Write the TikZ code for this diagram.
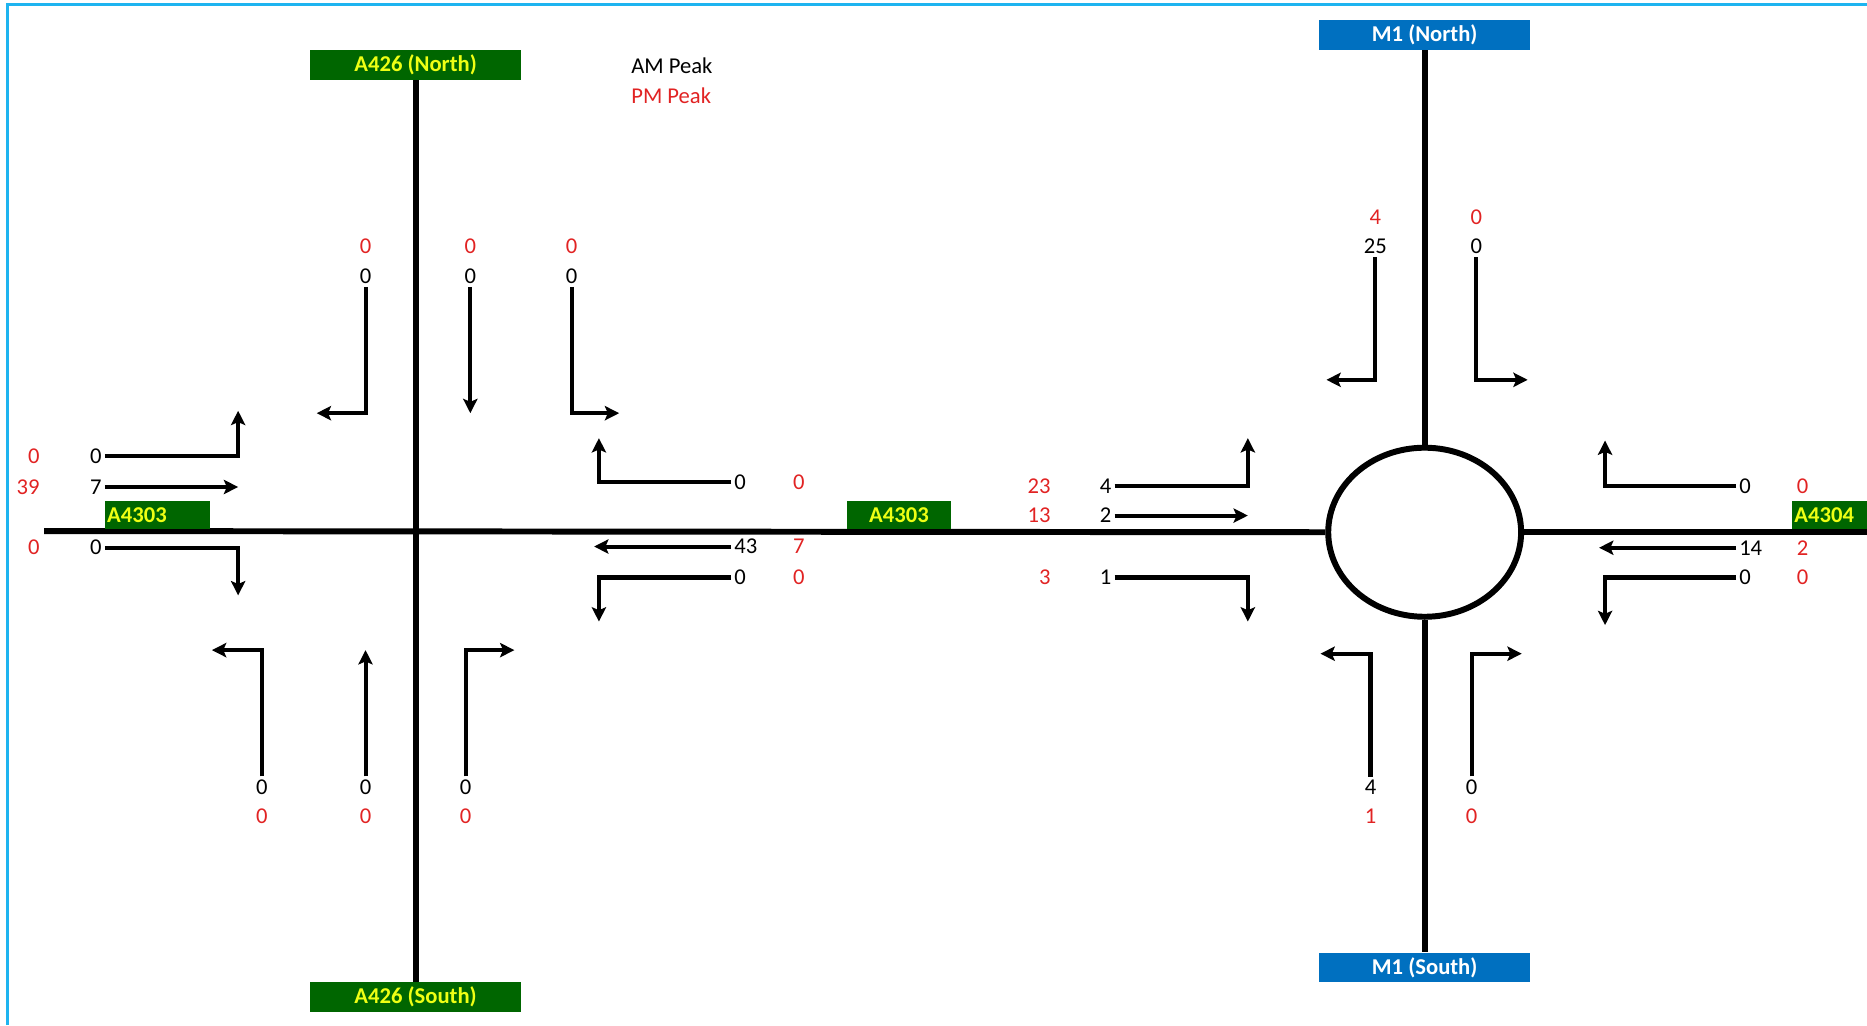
\documentclass[tikz,border=0pt]{standalone}
\usepackage{fontspec}
\setmainfont{Carlito}
\usetikzlibrary{positioning,arrows.meta,shapes.geometric}

\definecolor{roadgreen}{RGB}{0,102,0}
\definecolor{signyellow}{RGB}{238,255,20}
\definecolor{mwayblue}{RGB}{0,112,192}
\definecolor{pmred}{RGB}{225,35,35}
\definecolor{framecyan}{RGB}{30,180,240}

\tikzstyle{greenbox} = [
rectangle,
minimum width=177pt,
minimum height=25pt,
inner sep=0pt,
fill=roadgreen,
text=signyellow,
font=\fontsize{19}{22}\selectfont\bfseries
]
\tikzstyle{bluebox} = [
greenbox,
fill=mwayblue,
text=white
]
\tikzstyle{namebox} = [
greenbox,
minimum width=88pt,
minimum height=23pt
]
\tikzstyle{am} = [
inner sep=2.5pt,
text=black,
font=\fontsize{19}{22}\selectfont
]
\tikzstyle{pm} = [
am,
text=pmred
]
\tikzstyle{legendtext} = [
inner sep=1pt,
font=\fontsize{19}{22}\selectfont
]
\tikzstyle{road} = [
line width=5pt
]
\tikzstyle{roundabout} = [
ellipse,
draw=black,
line width=5pt,
minimum width=162pt,
minimum height=142pt
]
\tikzstyle{flowarrow} = [
line width=3.4pt,
-{Stealth[length=12pt,width=12pt,inset=2.5pt]}
]

\begin{document}
\begin{tikzpicture}[
x=1pt,
y=-1pt
]

\useasboundingbox (0,0) rectangle (1568,861);

\draw [framecyan, line width=2.5pt] (6,861) -- (6,3.5) -- (1568,3.5);

\node (a426n) [greenbox] at (349,54.5) {A426 (North)};

\node (a426s) [greenbox] at (349,837.5) {A426 (South)};

\node (m1n) [bluebox] at (1196.5,29.5) {M1 (North)};

\node (m1s) [bluebox] at (1196.5,812.5) {M1 (South)};

\node (rb) [roundabout] at (1196.5,447) {};

\coordinate (wend) at (37,446);

\coordinate (eend) at (1568,447);

\draw [road] (a426n.south) -- (a426s.north);

\draw [road] (wend) -- (rb.west);

\draw [road] (rb.east) -- (eend);

\draw [road] (m1n.south) -- (rb.north);

\draw [road] (rb.south) -- (m1s.north);

\node (a4303w) [namebox, text width=84pt, align=left] at (132,432.5) {A4303};

\node (a4303m) [namebox] at (755,432.5) {A4303};

\node (a4304) [namebox, minimum width=63pt, text width=59pt, align=left] at (1536.5,432.5) {A4304};

\node (legam) [legendtext, anchor=west] at (529,55) {AM Peak};

\node (legpm) [legendtext, text=pmred, below=9.5pt of legam.south west, anchor=north west] {PM Peak};

% A426 north arm
\node (nla) [am] at (307,232) {0};
\node (nlapm) [pm, above=7pt of nla] {0};
\node (nlb) [am] at (395,232) {0};
\node (nlbpm) [pm, above=7pt of nlb] {0};
\node (nlc) [am] at (480,232) {0};
\node (nlcpm) [pm, above=7pt of nlc] {0};

\coordinate (nlaend) at (266,347);
\coordinate (nlbend) at (395,347);
\coordinate (nlcend) at (520,347);

\draw [flowarrow] (nla.south) |- (nlaend);

\draw [flowarrow] (nlb.south) -- (nlbend);

\draw [flowarrow] (nlc.south) |- (nlcend);

% A426 south arm
\node (sla) [am] at (220,661) {0};
\node (slapm) [pm, below=7pt of sla] {0};
\node (slb) [am] at (307,661) {0};
\node (slbpm) [pm, below=7pt of slb] {0};
\node (slc) [am] at (391,661) {0};
\node (slcpm) [pm, below=7pt of slc] {0};

\coordinate (slaend) at (178,546);
\coordinate (slbend) at (307,546);
\coordinate (slcend) at (432,546);

\draw [flowarrow] (sla.north) |- (slaend);

\draw [flowarrow] (slb.north) -- (slbend);

\draw [flowarrow] (slc.north) |- (slcend);

% A4303 west arm
\node (wla) [am, anchor=east] at (88,383) {0};
\node (wlapm) [pm, anchor=east] at (36,383) {0};
\node (wlb) [am, anchor=east] at (88,409) {7};
\node (wlbpm) [pm, anchor=east] at (36,409) {39};
\node (wlc) [am, anchor=east] at (88,460) {0};
\node (wlcpm) [pm, anchor=east] at (36,460) {0};

\coordinate (wlaend) at (200,345);
\coordinate (wlbend) at (200,409);
\coordinate (wlcend) at (200,500);

\draw [flowarrow] (wla.east) -| (wlaend);

\draw [flowarrow] (wlb.east) -- (wlbend);

\draw [flowarrow] (wlc.east) -| (wlcend);

% A4303 link, eastern side of the junction
\node (ela) [am, anchor=west] at (614,405) {0};
\node (elapm) [pm] at (671,405) {0};
\node (elb) [am, anchor=west] at (614,459) {43};
\node (elbpm) [pm] at (671,459) {7};
\node (elc) [am, anchor=west] at (614,485) {0};
\node (elcpm) [pm] at (671,485) {0};

\coordinate (elaend) at (503,368);
\coordinate (elbend) at (499,459);
\coordinate (elcend) at (503,522);

\draw [flowarrow] (ela.west) -| (elaend);

\draw [flowarrow] (elb.west) -- (elbend);

\draw [flowarrow] (elc.west) -| (elcend);

% A4303 into the roundabout
\node (rwa) [am, anchor=east] at (936,408) {4};
\node (rwapm) [pm, anchor=east] at (885,408) {23};
\node (rwb) [am, anchor=east] at (936,433) {2};
\node (rwbpm) [pm, anchor=east] at (885,433) {13};
\node (rwc) [am, anchor=east] at (936,485) {1};
\node (rwcpm) [pm, anchor=east] at (885,485) {3};

\coordinate (rwaend) at (1048,368);
\coordinate (rwbend) at (1048,433);
\coordinate (rwcend) at (1048,522);

\draw [flowarrow] (rwa.east) -| (rwaend);

\draw [flowarrow] (rwb.east) -- (rwbend);

\draw [flowarrow] (rwc.east) -| (rwcend);

% A4304 arm
\node (rea) [am, anchor=west] at (1458,408) {0};
\node (reapm) [pm] at (1514,408) {0};
\node (reb) [am, anchor=west] at (1458,460) {14};
\node (rebpm) [pm] at (1514,460) {2};
\node (rec) [am, anchor=west] at (1458,485) {0};
\node (recpm) [pm] at (1514,485) {0};

\coordinate (reaend) at (1348,370);
\coordinate (rebend) at (1343,460);
\coordinate (recend) at (1348,525);

\draw [flowarrow] (rea.west) -| (reaend);

\draw [flowarrow] (reb.west) -- (rebend);

\draw [flowarrow] (rec.west) -| (recend);

% M1 north arm
\node (rna) [am] at (1155,207) {25};
\node (rnapm) [pm, above=7pt of rna] {4};
\node (rnb) [am] at (1240,207) {0};
\node (rnbpm) [pm, above=7pt of rnb] {0};

\coordinate (rnaend) at (1114,319);
\coordinate (rnbend) at (1283,319);

\draw [flowarrow] (rna.south) |- (rnaend);

\draw [flowarrow] (rnb.south) |- (rnbend);

% M1 south arm
\node (rsa) [am] at (1151,661) {4};
\node (rsapm) [pm, below=7pt of rsa] {1};
\node (rsb) [am] at (1236,661) {0};
\node (rsbpm) [pm, below=7pt of rsb] {0};

\coordinate (rsaend) at (1109,549);
\coordinate (rsbend) at (1278,549);

\draw [flowarrow] (rsa.north) |- (rsaend);

\draw [flowarrow] (rsb.north) |- (rsbend);

\end{tikzpicture}
\end{document}
